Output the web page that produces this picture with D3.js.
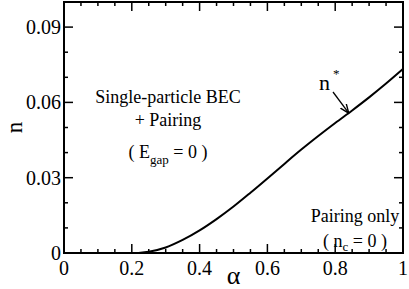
<!DOCTYPE html>
<html>
<head>
<meta charset="utf-8">
<script src="https://cdn.jsdelivr.net/npm/d3@7"></script>
<style>
  body { margin: 0; background: #fff; }
  svg text { font-family: "Liberation Serif", "DejaVu Serif", "Times New Roman", serif; }
</style>
</head>
<body>
<div id="chart"></div>
<script>
// n* boundary curve
const alpha = [0.22, 0.25, 0.3, 0.35, 0.4, 0.45, 0.5, 0.55, 0.6, 0.65, 0.7, 0.75, 0.8, 0.85, 0.9, 0.95, 1.0];
const nStar = [0, 0.0005, 0.0022, 0.0052, 0.009, 0.0135, 0.0185, 0.024, 0.0297, 0.0355, 0.0412, 0.0466, 0.0518, 0.0568, 0.062, 0.0675, 0.0733];

const xTicks = [0, 0.2, 0.4, 0.6, 0.8, 1];
const xTickLabels = ["0", "0.2", "0.4", "0.6", "0.8", "1"];
const yTicks = [0, 0.03, 0.06, 0.09];
const yTickLabels = ["0", "0.03", "0.06", "0.09"];

const width = 409;
const height = 289;
const margin = { top: 2, right: 6, bottom: 36, left: 64 };

const svg = d3.select("#chart").append("svg")
    .attr("width", width).attr("height", height);

const x = d3.scaleLinear().domain([0, 1]).range([margin.left, width - margin.right]);
const y = d3.scaleLinear().domain([0, 0.1]).range([height - margin.bottom, margin.top]);

const x0 = x(0), x1 = x(1), y0 = y(0), y1 = y(0.1);

// minor ticks every 0.05 on x, 0.01 on y; ticks point inward on all four sides
const xMinor = d3.range(0, 1.0001, 0.05);
const yMinor = d3.range(0, 0.1001, 0.01);

const g = svg.append("g").attr("stroke", "#000").attr("stroke-width", 1.5);
xMinor.forEach(v => {
    const big = xTicks.some(t => Math.abs(t - v) < 1e-6);
    const len = big ? 9 : 4;
    g.append("line").attr("x1", x(v)).attr("x2", x(v)).attr("y1", y0).attr("y2", y0 - len);
    g.append("line").attr("x1", x(v)).attr("x2", x(v)).attr("y1", y1).attr("y2", y1 + len);
});
yMinor.forEach(v => {
    const big = yTicks.some(t => Math.abs(t - v) < 1e-6);
    const len = big ? 9 : 4;
    g.append("line").attr("y1", y(v)).attr("y2", y(v)).attr("x1", x0).attr("x2", x0 + len);
    g.append("line").attr("y1", y(v)).attr("y2", y(v)).attr("x1", x1).attr("x2", x1 - len);
});

svg.append("rect")
    .attr("x", x0).attr("y", y1)
    .attr("width", x1 - x0).attr("height", y0 - y1)
    .attr("fill", "none").attr("stroke", "#000").attr("stroke-width", 2);

// tick labels
svg.selectAll(".xl").data(xTicks).enter().append("text")
    .attr("x", d => x(d)).attr("y", y0 + 22)
    .attr("text-anchor", "middle").attr("font-size", 20)
    .text((d, i) => xTickLabels[i]);

svg.selectAll(".yl").data(yTicks).enter().append("text")
    .attr("x", x0 - 3).attr("y", d => y(d) + 7)
    .attr("text-anchor", "end").attr("font-size", 20)
    .text((d, i) => yTickLabels[i]);

// axis titles
svg.append("text").attr("x", (x0 + x1) / 2).attr("y", 284)
    .attr("text-anchor", "middle").attr("font-size", 26).text("α");
svg.append("text")
    .attr("transform", "translate(22," + ((y0 + y1) / 2) + ") rotate(-90)")
    .attr("text-anchor", "middle").attr("font-size", 23).text("n");

// curve
const pts = alpha.map((a, i) => [a, nStar[i]]);
svg.append("path")
    .datum(pts)
    .attr("fill", "none").attr("stroke", "#000").attr("stroke-width", 2)
    .attr("d", d3.line().x(d => x(d[0])).y(d => y(d[1])).curve(d3.curveMonotoneX));

// region labels
const lab = svg.append("g").attr("font-size", 18).attr("text-anchor", "middle");
lab.append("text").attr("x", 168).attr("y", 103).text("Single-particle BEC");
lab.append("text").attr("x", 168).attr("y", 126).text("+ Pairing");
const eg = lab.append("text").attr("x", 168).attr("y", 158);
eg.append("tspan").text("( E");
eg.append("tspan").attr("font-size", 13).attr("dy", 6).text("gap");
eg.append("tspan").attr("dy", -6).text(" = 0 )");

lab.append("text").attr("x", 355).attr("y", 222).text("Pairing only");
const nc = lab.append("text").attr("x", 355).attr("y", 247);
nc.append("tspan").text("( n");
nc.append("tspan").attr("font-size", 13).attr("dy", 4).text("c");
nc.append("tspan").attr("dy", -4).text(" = 0 )");

// n* annotation with arrow
svg.append("defs").append("marker")
    .attr("id", "ah").attr("viewBox", "0 0 10 10").attr("refX", 10).attr("refY", 5)
    .attr("markerWidth", 7).attr("markerHeight", 7).attr("orient", "auto")
    .append("path").attr("d", "M0,1 L10,5 L0,9").attr("fill", "none").attr("stroke", "#000").attr("stroke-width", 1.5);

const aTip = 0.843;
const nTip = nStar[13] + (aTip - 0.85) * 0.1;
svg.append("text").attr("x", 319).attr("y", 90).attr("font-size", 22).text("n");
svg.append("text").attr("x", 333).attr("y", 78).attr("font-size", 13).text("*");
svg.append("line")
    .attr("x1", 333).attr("y1", 92).attr("x2", x(aTip) - 1).attr("y2", y(nTip) + 1)
    .attr("stroke", "#000").attr("stroke-width", 1.3).attr("marker-end", "url(#ah)");
</script>
</body>
</html>
